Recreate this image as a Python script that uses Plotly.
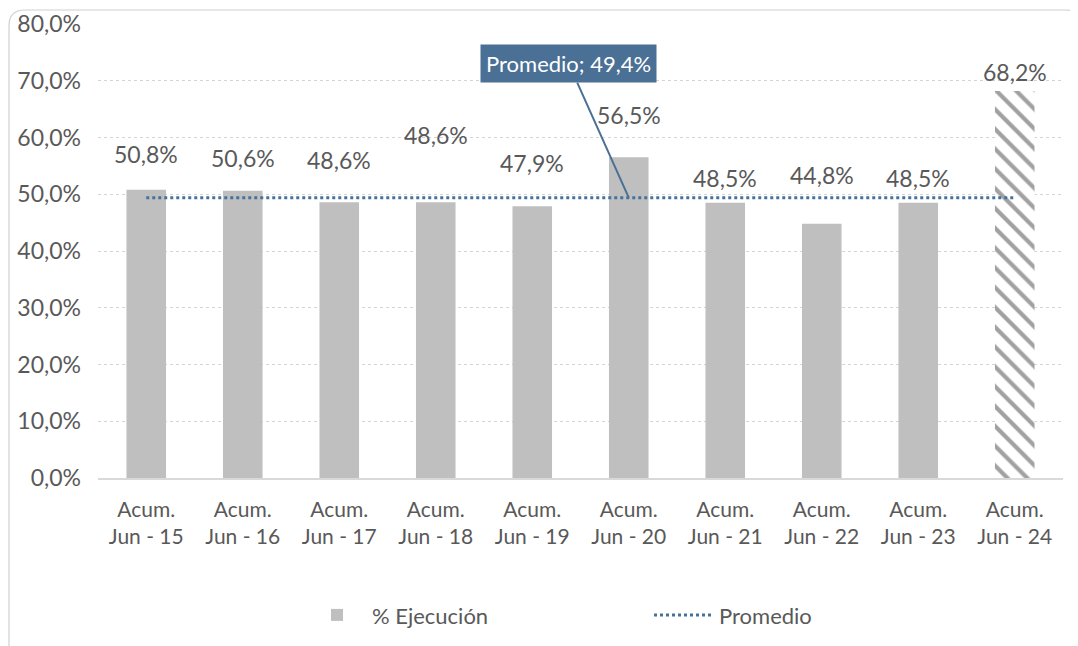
import plotly.graph_objects as go

categories = ["Acum.<br>Jun - 15", "Acum.<br>Jun - 16", "Acum.<br>Jun - 17", "Acum.<br>Jun - 18",
              "Acum.<br>Jun - 19", "Acum.<br>Jun - 20", "Acum.<br>Jun - 21", "Acum.<br>Jun - 22",
              "Acum.<br>Jun - 23", "Acum.<br>Jun - 24"]
ejecucion = [50.8, 50.6, 48.6, 48.6, 47.9, 56.5, 48.5, 44.8, 48.5, 68.2]
promedio_value = 49.4
promedio = [promedio_value] * len(categories)
label_texts = ["50,8%", "50,6%", "48,6%", "48,6%", "47,9%", "56,5%", "48,5%", "44,8%", "48,5%", "68,2%"]
y_ticks = [0, 10, 20, 30, 40, 50, 60, 70, 80]
y_ticktext = ["0,0%", "10,0%", "20,0%", "30,0%", "40,0%", "50,0%", "60,0%", "70,0%", "80,0%"]

# styles (kept separate from data)
label_yshift = [20, 17, 26, 51, 27, 26, 9, 33, 9, 3]
FONT = "Lato, 'Open Sans', sans-serif"
FS = 23
TXT = "#595959"
W, H = 1070, 638
ML, MR, MT, MB = 90, 15, 16, 168
PW, PH = W - ML - MR, H - MT - MB

bar_colors = ["#bfbfbf"] * 9 + ["white"]
pattern_shapes = [""] * 9 + ["\\"]

fig = go.Figure()
fig.add_trace(go.Bar(
    x=categories, y=ejecucion, name="% Ejecución",
    marker=dict(color=bar_colors, line=dict(width=0),
                pattern=dict(shape=pattern_shapes, fgcolor="#a6a6a6", size=14,
                             solidity=0.3, fillmode="overlay")),
))
fig.add_trace(go.Scatter(
    x=categories, y=promedio, name="Promedio", mode="lines",
    line=dict(color="#44729d", width=3, dash="dot"),
))

annotations = []
for c, v, t, s in zip(categories, ejecucion, label_texts, label_yshift):
    annotations.append(dict(x=c, y=v, text=t, showarrow=False, yanchor="bottom",
                            yshift=s, font=dict(size=FS, color=TXT, family=FONT)))
annotations.append(dict(
    x=categories[5], y=promedio_value, text="Promedio; 49,4%",
    showarrow=True, arrowhead=0, arrowwidth=2, arrowcolor="#4a7095",
    ax=-60, ay=-134, bgcolor="#4a7095", borderpad=5,
    font=dict(size=22, color="white", family=FONT),
))


def px(x):
    return (x - ML) / PW


def py(y):
    return (MT + PH - y) / PH


x0, x1, y0, y1, r = 1, 1074, 2, 642, 16
path = (f"M {px(x0)},{py(y0 + r)} Q {px(x0)},{py(y0)} {px(x0 + r)},{py(y0)} "
        f"L {px(x1 - r)},{py(y0)} Q {px(x1)},{py(y0)} {px(x1)},{py(y0 + r)} "
        f"L {px(x1)},{py(y1)} L {px(x0)},{py(y1)} Z")

fig.update_layout(
    width=W, height=H,
    margin=dict(l=ML, r=MR, t=MT, b=MB, autoexpand=False),
    paper_bgcolor="white", plot_bgcolor="white",
    bargap=0.59,
    font=dict(family=FONT, size=FS, color=TXT),
    annotations=annotations,
    shapes=[dict(type="path", path=path, xref="paper", yref="paper",
                 line=dict(color="#d0d0d0", width=1.2), layer="below")],
    legend=dict(orientation="h", x=0.571, xanchor="center", y=-0.302, yanchor="middle",
                font=dict(size=22, color=TXT, family=FONT),
                itemwidth=60, entrywidth=272, bgcolor="rgba(0,0,0,0)"),
    xaxis=dict(showgrid=False, showline=True, linecolor="#d9d9d9", linewidth=1.5,
               automargin=False,
               ticks="", ticklabelstandoff=12, tickfont=dict(size=21, color=TXT)),
    yaxis=dict(range=[0, 80], tickvals=y_ticks, ticktext=y_ticktext, automargin=False,
               showgrid=True, gridcolor="#d4d4d4", griddash="dot", gridwidth=1.2,
               zeroline=False, showline=False, ticks="", ticklabelstandoff=16,
               tickfont=dict(size=FS, color=TXT)),
)

fig.write_html("out.html")
